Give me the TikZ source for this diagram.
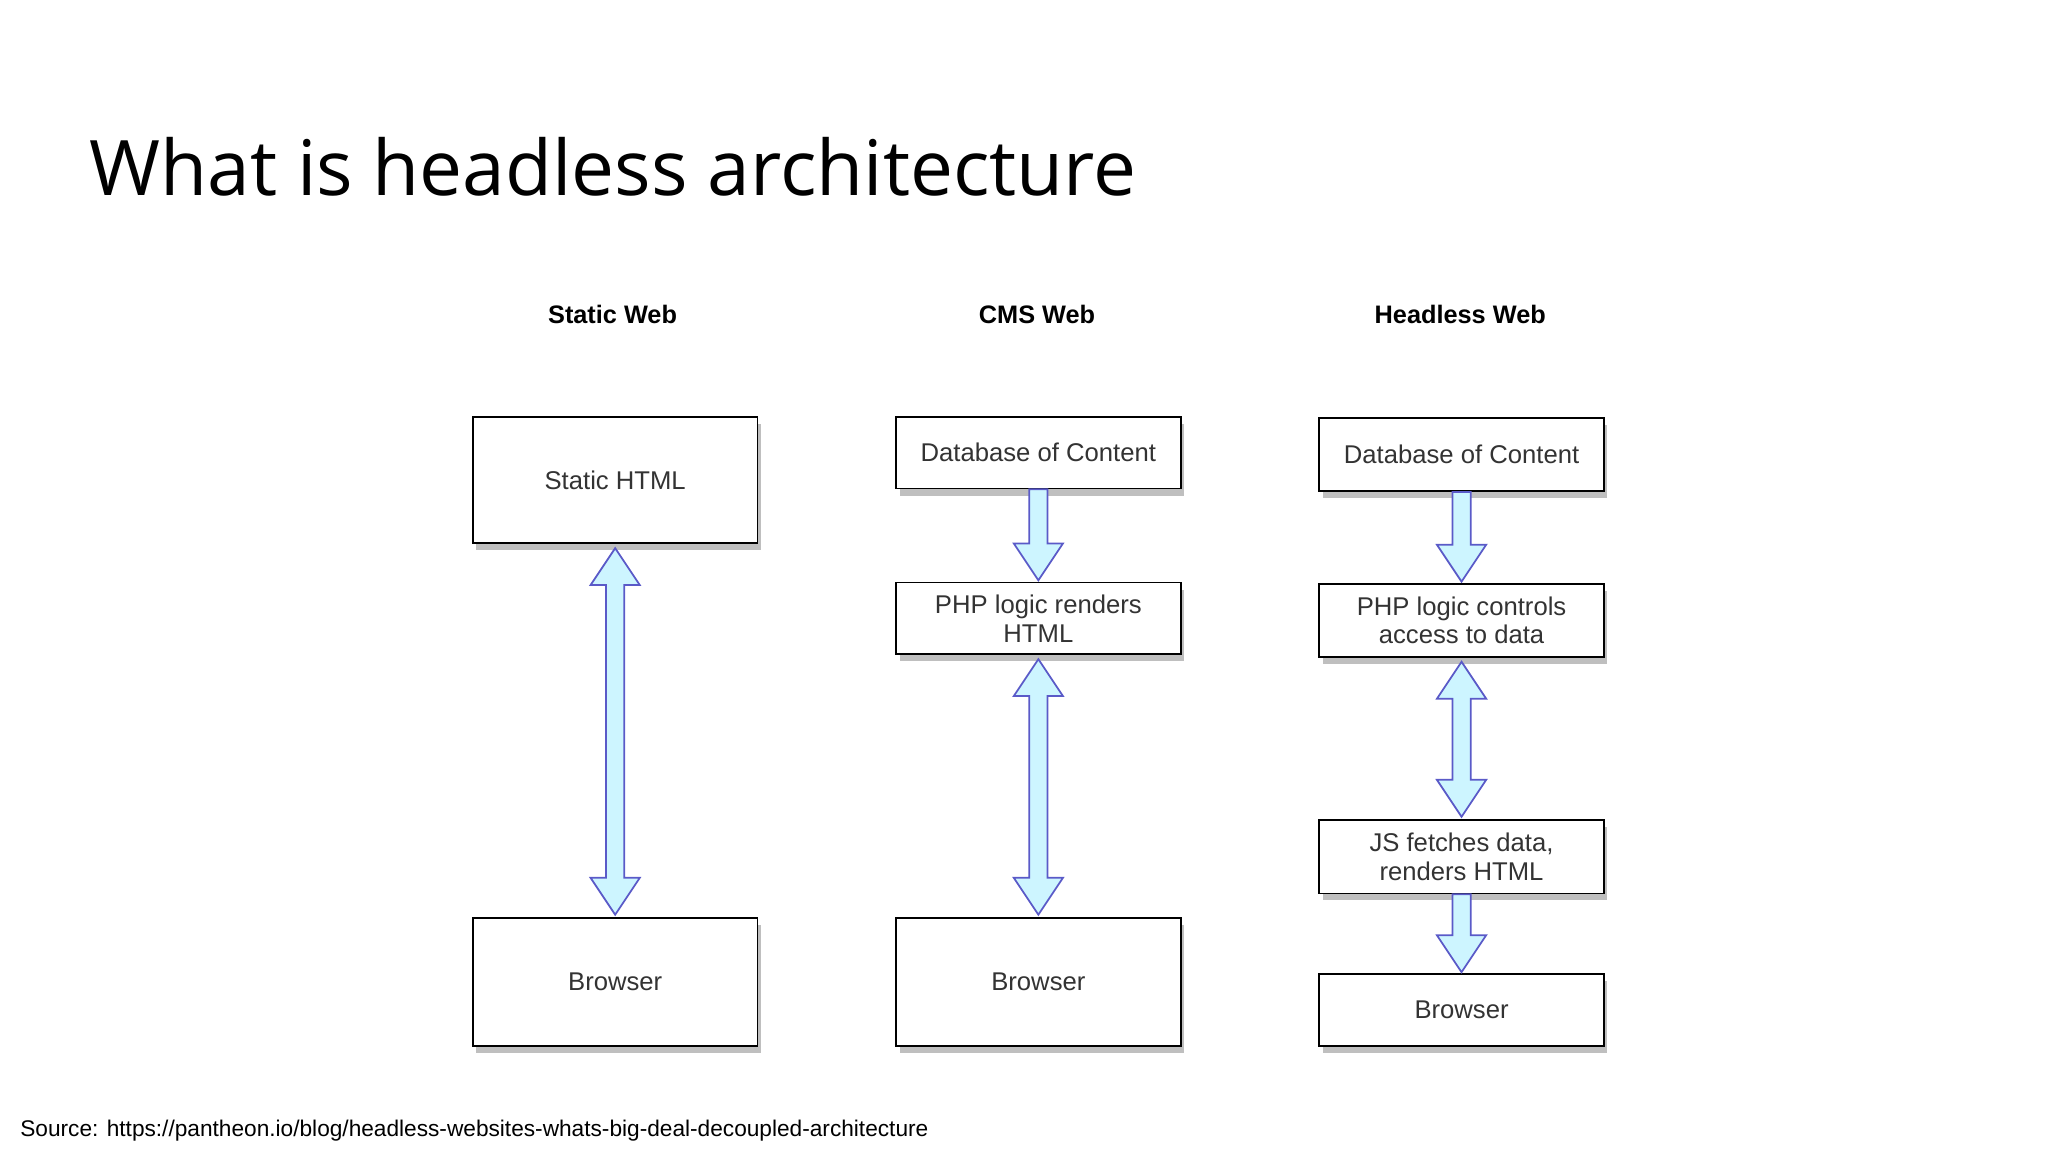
\documentclass[tikz,border=0pt]{standalone}
\usepackage{fontspec}
\setmainfont{Liberation Sans}
\newfontfamily\titlefont{Open Sans}
\usetikzlibrary{shadows,calc}
\tikzset{
 bx/.style={draw=black,line width=0.5pt,fill=white,minimum width=218*0.01306cm,align=center,font=\fontsize{7.3}{8.2}\selectfont,text=black!80,drop shadow={shadow xshift=1pt,shadow yshift=-2pt,opacity=0.5}},
 hd/.style={font=\fontsize{7.2}{8.2}\selectfont\bfseries},
 arr/.style={draw={rgb,255:red,90;green,90;blue,200},line width=0.5pt,fill={rgb,255:red,205;green,245;blue,255},line join=miter}
}
\newcommand{\dblarr}[2]{\path[arr] let \p1=(#1), \p2=(#2) in (\x1,\y1) -- (\x1+7pt,\y1-10.5pt) -- (\x1+2.6pt,\y1-10.5pt) -- (\x1+2.6pt,\y2+10.5pt) -- (\x1+7pt,\y2+10.5pt) -- (\x1,\y2) -- (\x1-7pt,\y2+10.5pt) -- (\x1-2.6pt,\y2+10.5pt) -- (\x1-2.6pt,\y1-10.5pt) -- (\x1-7pt,\y1-10.5pt) -- cycle;}
\newcommand{\sglarr}[2]{\path[arr] let \p1=(#1), \p2=(#2) in (\x1-2.6pt,\y1) -- (\x1+2.6pt,\y1) -- (\x1+2.6pt,\y2+10.5pt) -- (\x1+7pt,\y2+10.5pt) -- (\x1,\y2) -- (\x1-7pt,\y2+10.5pt) -- (\x1-2.6pt,\y2+10.5pt) -- cycle;}
\begin{document}
\begin{tikzpicture}[x=0.01306cm,y=-0.01306cm]
\useasboundingbox[fill=white] (0,0) rectangle (1568,882);
\node[anchor=base west,font=\titlefont\fontsize{21.8}{26}\selectfont,inner sep=0] (title) at (68,150) {What is headless architecture};
\node[hd] (h1) at (469,241) {Static Web};
\node[hd] (h2) at (794,241) {CMS Web};
\node[hd] (h3) at (1118,241) {Headless Web};
% static
\node[bx,minimum height=97*0.01306cm] (s1) at (471,367.5) {Static HTML};
\node[bx,minimum height=98*0.01306cm] (s2) at (471,752) {Browser};
% cms
\node[bx,minimum height=55*0.01306cm] (c1) at (795,346.5) {Database of Content};
\node[bx,minimum height=55*0.01306cm] (c2) at (795,473.5) {PHP logic renders\\HTML};
\node[bx,minimum height=98*0.01306cm] (c3) at (795,752) {Browser};
% headless
\node[bx,minimum height=56*0.01306cm] (d1) at (1119,348) {Database of Content};
\node[bx,minimum height=56*0.01306cm] (d2) at (1119,475) {PHP logic controls\\access to data};
\node[bx,minimum height=56*0.01306cm] (d3) at (1119,656) {JS fetches data,\\renders HTML};
\node[bx,minimum height=55*0.01306cm] (d4) at (1119,773.5) {Browser};
\dblarr{$(s1.south)+(0,3)$}{$(s2.north)+(0,-2)$}
\sglarr{c1.south}{$(c2.north)+(0,-1)$}
\dblarr{$(c2.south)+(0,3)$}{$(c3.north)+(0,-2)$}
\sglarr{d1.south}{$(d2.north)+(0,-1)$}
\dblarr{$(d2.south)+(0,3)$}{$(d3.north)+(0,-2)$}
\sglarr{d3.south}{$(d4.north)+(0,-1)$}
\node[anchor=base west,inner sep=0,font=\fontsize{6.45}{7.5}\selectfont] (src) at (15,870) {Source: https://pantheon.io/blog/headless-websites-whats-big-deal-decoupled-architecture};
\end{tikzpicture}
\end{document}
